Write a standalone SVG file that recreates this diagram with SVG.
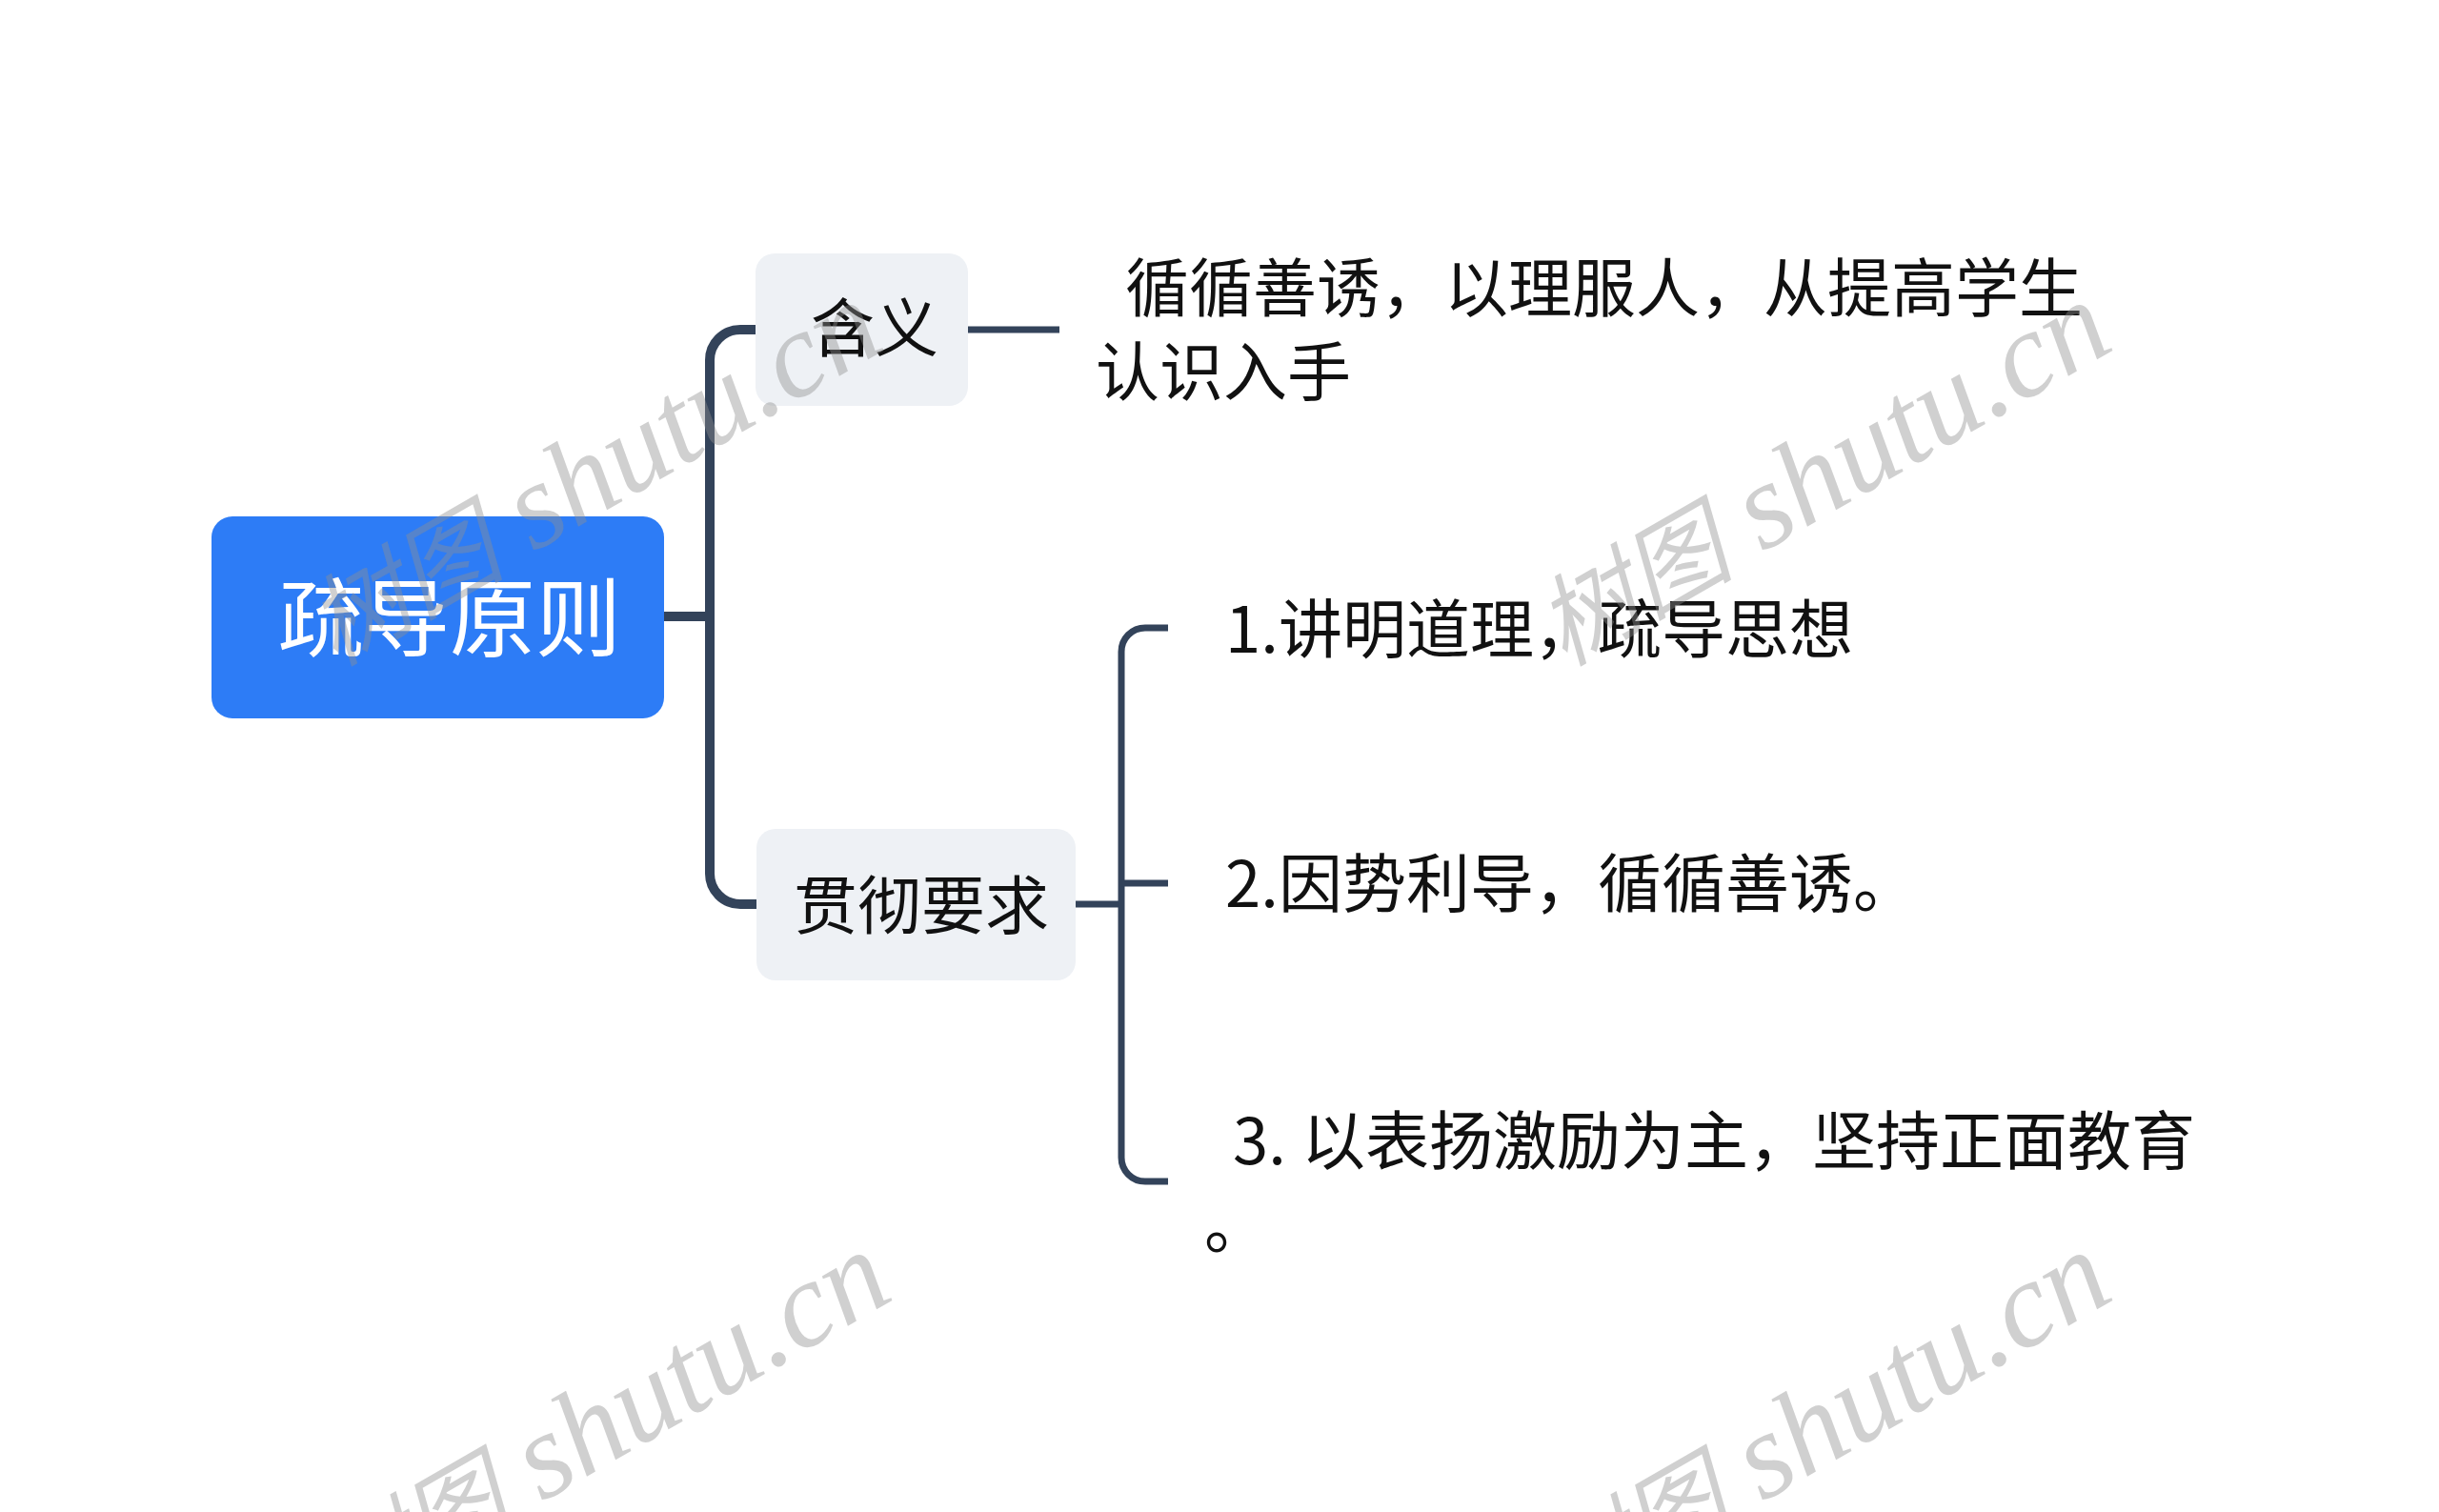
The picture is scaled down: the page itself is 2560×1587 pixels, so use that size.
<svg xmlns="http://www.w3.org/2000/svg" width="2560" height="1587" viewBox="0 0 2560 1587">
<style>
.t{font-family:"Noto Sans CJK SC","Microsoft YaHei",sans-serif;font-size:67px;fill:#111}
.root{font-family:"Noto Sans CJK SC","Microsoft YaHei",sans-serif;font-size:90px;fill:#fff}
.box{fill:#eef1f5}
.c1{fill:none;stroke:#33435a;stroke-width:10;stroke-linecap:butt}
.c2{fill:none;stroke:#33435a;stroke-width:7;stroke-linecap:butt}
.wm{font-family:"Liberation Serif","Noto Sans CJK SC",serif;font-style:italic;font-size:128px;fill:#8f8f8f;fill-opacity:0.42}
.wm .cj{font-size:104px}
</style>
<rect width="2560" height="1587" fill="#fff"/>
<g id="connectors">
<path class="c1" d="M697 647 H745"/>
<path class="c1" d="M794 346 H777 A32 32 0 0 0 745 378 V917 A32 32 0 0 0 777 949 H795"/>
<path class="c2" d="M1016 346 H1112"/>
<path class="c2" d="M1129 949 H1177"/>
<path class="c2" d="M1226 659 H1202 A25 25 0 0 0 1177 684 V1215 A25 25 0 0 0 1202 1240 H1226"/>
<path class="c2" d="M1177 927 H1226"/>
</g>
<g id="root">
<rect x="222" y="542" width="475" height="212" rx="22" fill="#2d7cf6"/>
<text class="root" x="292" y="682">疏导原则</text>
</g>
<g id="hanyi">
<rect class="box" x="793" y="266" width="223" height="160" rx="20"/>
<text class="t" x="851" y="369">含义</text>
</g>
<g id="hanyi-text">
<text class="t" x="1181" y="327">循循善诱，以理服人，从提高学生</text>
<text class="t" x="1150" y="415">认识入手</text>
</g>
<g id="guanche">
<rect class="box" x="794" y="870" width="335" height="159" rx="20"/>
<text class="t" x="833" y="975">贯彻要求</text>
</g>
<g id="item1">
<text class="t" x="1286" y="685">1.<tspan x="1342">讲明道理，疏导思想</tspan></text>
</g>
<g id="item2">
<text class="t" x="1286" y="952">2.<tspan x="1342">因势利导，循循善诱。</tspan></text>
</g>
<g id="item3">
<text class="t" x="1294" y="1222">3.<tspan x="1366">以表扬激励为主，坚持正面教育</tspan></text>
<text class="t" x="1264" y="1310">。</text>
</g>
<g id="watermarks">
<text class="wm" transform="translate(352 700) rotate(-30)"><tspan class="cj">树图</tspan> shutu.cn</text>
<text class="wm" transform="translate(1642 700) rotate(-30)"><tspan class="cj">树图</tspan> shutu.cn</text>
<text class="wm" transform="translate(361 1697) rotate(-30)"><tspan class="cj">树图</tspan> shutu.cn</text>
<text class="wm" transform="translate(1642 1697) rotate(-30)"><tspan class="cj">树图</tspan> shutu.cn</text>
</g>
</svg>
